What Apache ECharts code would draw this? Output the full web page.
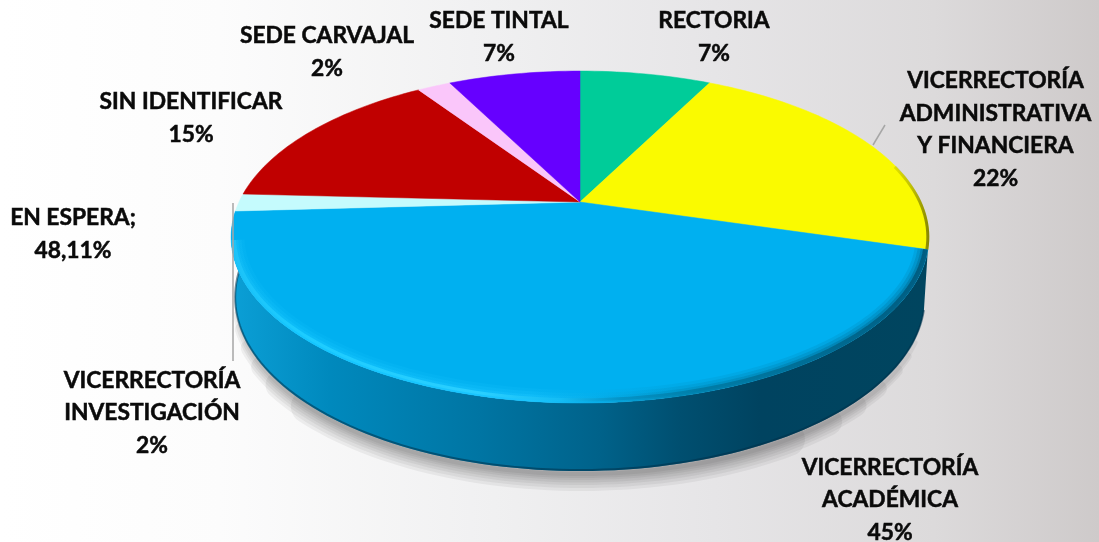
<!DOCTYPE html>
<html>
<head>
<meta charset="utf-8">
<style>html,body{margin:0;padding:0;background:#fff}#chart{width:1099px;height:542px}</style>
<script src="https://cdn.jsdelivr.net/npm/echarts@6/dist/echarts.min.js"></script>
</head>
<body>
<div id="chart"></div>
<script>
// ---- data ----
const categories = ['RECTORIA', 'VICERRECTORÍA\nADMINISTRATIVA\nY FINANCIERA', 'VICERRECTORÍA\nACADÉMICA', 'VICERRECTORÍA\nINVESTIGACIÓN', 'SIN IDENTIFICAR', 'SEDE CARVAJAL', 'SEDE TINTAL'];
const values = [7.45, 22.1, 44.55, 1.7, 14.8, 1.9, 7.49];
const extraLabelName = 'EN ESPERA;';
const extraLabelValue = '48,11%';

// ---- styling and layout, separate from the data ----
const sliceColors = ['#00CC99', '#FAFA00', '#00B0F0', '#C5FBFD', '#C00000', '#FAC6FA', '#6600FF'];
const labelCenters = [[714, 37], [995.5, 129.5], [890, 500], [152, 413], [191, 118], [327, 52], [499, 37]];
const extraLabelCenter = [73, 234];
const leaders = [[[873, 145], [885, 125]], [[233, 203], [233, 361]]];
const FONT = 'bold 22.8px Lato, Carlito, sans-serif';
const LINE_H = 32.7;

// projection of the pie's disc on to the page
const P = {cx: 580, cy: 202, a: 341, b: 158.6, k: 0.211};
const TOPC = {x: 580, y: 237};
const BOT = {x: 580, y: 298, sx: 345 / 349, sy: 173 / 166};

const total = values.reduce((s, v) => s + v, 0);
const starts = [];
values.reduce((s, v, i) => { starts[i] = s; return s + v; }, 0);

function rim(deg) {
  const t = deg * Math.PI / 180, u = Math.sin(t), v = -Math.cos(t), d = 1 - P.k * v;
  return [P.cx + P.a * u / d, P.cy + P.b * v / d];
}
const down = p => [BOT.x + (p[0] - TOPC.x) * BOT.sx, BOT.y + (p[1] - TOPC.y) * BOT.sy];
const inset = (p, f) => [TOPC.x + (p[0] - TOPC.x) * (1 - f * 0.5), TOPC.y + (p[1] - TOPC.y) * (1 - f)];
function arc(a0, a1) {
  const n = Math.max(6, Math.ceil((a1 - a0) / 1.5)), out = [];
  for (let j = 0; j <= n; j++) out.push(rim(a0 + (a1 - a0) * j / n));
  return out;
}
const angleRange = i => [starts[i] / total * 360, (starts[i] + values[i]) / total * 360];
const isFront = i => { const r = angleRange(i), m = (r[0] + r[1]) / 2 * Math.PI / 180; return -Math.cos(m) > 0.01; };
const hGrad = stops => new echarts.graphic.LinearGradient(0, 0, 1100, 0, stops.map(s => ({offset: s[0] / 1100, color: s[1]})), true);

function renderWall(params, api) {
  const i = api.value(0);
  if (!isFront(i)) return {type: 'group', children: []};
  const r = angleRange(i), top = arc(r[0], r[1]), bottom = top.map(down).reverse();
  const shadowWidths = [34, 28, 22, 17, 12, 8, 4];
  const shadow = shadowWidths.map(w => {
    const cut = Math.round(bottom.length * (0.03 + w * 0.007));
    return {
      type: 'polyline',
      shape: {points: bottom.slice(cut, bottom.length - cut).map(p => [p[0] + 1, p[1] + 3])},
      style: {fill: null, stroke: 'rgba(0,0,0,0.05)', lineWidth: w, lineCap: 'round'}
    };
  });
  return {type: 'group', children: shadow.concat([
    {type: 'polygon', shape: {points: top.concat(bottom)}, style: {
      fill: hGrad([[232, '#0B9FD6'], [330, '#0089BD'], [480, '#0075A3'], [600, '#00628A'], [680, '#004F70'], [760, '#004360'], [930, '#00455F']])
    }},
    {type: 'polyline', shape: {points: bottom.map(p => [p[0], p[1] - 1])}, style: {fill: null, stroke: 'rgba(0,50,75,0.55)', lineWidth: 2}}
  ])};
}
function renderFace(params, api) {
  const i = api.value(0), r = angleRange(i);
  return {
    type: 'polygon',
    shape: {points: [[P.cx, P.cy]].concat(arc(r[0], r[1]))},
    style: {fill: sliceColors[i], stroke: sliceColors[i], lineWidth: 0.5}
  };
}
function renderBevel(params, api) {
  const i = api.value(0), r = angleRange(i);
  if (isFront(i)) {
    const grad = hGrad([[228, '#1CC2F8'], [300, '#14C6FF'], [530, '#1CC6FF'], [600, '#08ACE6'], [680, '#0085B2'], [800, '#006C94'], [930, '#005C80']]);
    const bright = hGrad([[228, '#1CC2F8'], [300, '#1CCCFF'], [480, '#2ACFFF'], [560, '#14BDF5'], [620, '#0494C8'], [700, '#007DA8'], [930, '#005C80']]);
    const base = arc(r[0], r[1] - 10);
    const layers = [[13, 0.14], [10, 0.22], [7, 0.35], [4, 0.6], [2, 0.8]];
    const els = layers.map(l => ({
      type: 'polyline',
      shape: {points: base.map(p => inset(p, l[0] / 2 / 166))},
      style: {fill: null, stroke: grad, lineWidth: l[0], opacity: l[1]}
    }));
    els.push({type: 'polyline', shape: {points: base.map(p => inset(p, 3.2 / 166))}, style: {fill: null, stroke: bright, lineWidth: 3}});
    return {type: 'group', children: els};
  }
  if (r[1] < 180 && r[1] > 90) {
    const pts = arc(r[1] - 30, r[1]).map(p => inset(p, 0.006));
    return {type: 'polyline', shape: {points: pts}, style: {
      fill: null, lineWidth: 3,
      stroke: hGrad([[880, 'rgba(130,130,0,0)'], [910, 'rgba(130,130,0,0.45)'], [930, 'rgba(110,110,0,0.85)']])
    }};
  }
  return {type: 'group', children: []};
}
function textEl(str, c) {
  return {type: 'text', style: {text: str, x: c[0], y: c[1], align: 'center', verticalAlign: 'middle', font: FONT, lineHeight: LINE_H, fill: '#0a0a0a', stroke: '#0a0a0a', lineWidth: 0.5}};
}
function renderLabel(params, api) {
  const i = api.value(0);
  return textEl(categories[i] + '\n' + Math.round(values[i]) + '%', labelCenters[i]);
}
const rows = categories.map((c, i) => [i]);
const option = {
  animation: false,
  backgroundColor: new echarts.graphic.LinearGradient(0, 0, 1, 0, [
    {offset: 0, color: '#FFFFFF'}, {offset: 0.2, color: '#FCFCFC'}, {offset: 0.45, color: '#F0F0F1'},
    {offset: 0.65, color: '#E6E5E7'}, {offset: 0.85, color: '#DCDADB'}, {offset: 1, color: '#CECACA'}
  ]),
  series: [
    {type: 'custom', coordinateSystem: 'none', data: rows, renderItem: renderWall, z: 1, silent: true},
    {type: 'custom', coordinateSystem: 'none', data: rows, renderItem: renderFace, z: 2, silent: true},
    {type: 'custom', coordinateSystem: 'none', data: rows, renderItem: renderBevel, z: 3, silent: true},
    {type: 'custom', coordinateSystem: 'none', data: rows, renderItem: renderLabel, z: 5, silent: true}
  ],
  graphic: {elements: [
    Object.assign(textEl(extraLabelName + '\n' + extraLabelValue, extraLabelCenter), {z: 6})
  ].concat(leaders.map(l => ({type: 'line', z: 6, shape: {x1: l[0][0], y1: l[0][1], x2: l[1][0], y2: l[1][1]}, style: {stroke: '#a6a6a6', lineWidth: 1.5}})))}
};
echarts.init(document.getElementById('chart'), null, {renderer: 'canvas'}).setOption(option);
</script>
</body>
</html>
